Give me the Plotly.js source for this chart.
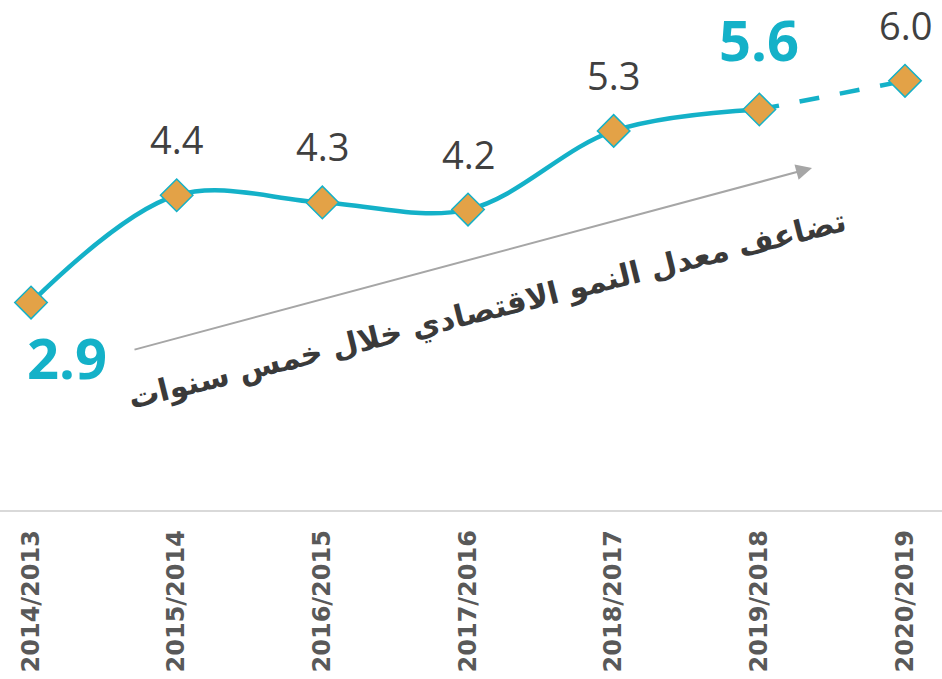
<!DOCTYPE html>
<html>
<head>
<meta charset="utf-8">
<script src="https://cdn.plot.ly/plotly-3.0.1.min.js"></script>
<style>html,body{margin:0;padding:0;background:#fff;}#chart{width:942px;height:679px;}</style>
</head>
<body>
<div id="chart"></div>
<script>
const categories = ["2014/2013","2015/2014","2016/2015","2017/2016","2018/2017","2019/2018","2020/2019"];
const growth = [2.9, 4.4, 4.3, 4.2, 5.3, 5.6, 6.0];
const actualCount = 6;          // first six are actual, last one projected
const highlightIdx = [0, 5];    // values shown large in teal
const noteText = "تضاعف معدل النمو الاقتصادي خلال خمس سنوات";

const TEAL = "#14B1C8";
const ORANGE = "#E3A247";

const solidTrace = {
  x: categories.slice(0, actualCount),
  y: growth.slice(0, actualCount),
  type: "scatter", mode: "lines",
  line: {color: TEAL, width: 4.5, shape: "spline", smoothing: 1},
  hoverinfo: "skip"
};
const dashTrace = {
  x: categories.slice(actualCount - 1),
  y: growth.slice(actualCount - 1),
  type: "scatter", mode: "lines",
  line: {color: TEAL, width: 4.5, dash: "20px,21px"},
  hoverinfo: "skip"
};
const markerTrace = {
  x: categories, y: growth,
  type: "scatter", mode: "markers",
  marker: {symbol: "diamond", size: 25, color: ORANGE, line: {color: TEAL, width: 1.5}},
  hoverinfo: "skip"
};

const annotations = [];
growth.forEach((v, i) => {
  if (highlightIdx.includes(i)) return;
  annotations.push({
    x: categories[i], y: v, xref: "x", yref: "y",
    text: v.toFixed(1), showarrow: false, yshift: 56,
    font: {family: "Open Sans", size: 38, color: "#404040"}
  });
});
// highlighted values
annotations.push({
  x: categories[0], y: growth[0], xref: "x", yref: "y",
  text: growth[0].toFixed(1), showarrow: false, xshift: 36, yshift: -54,
  font: {family: "Open Sans", size: 56, color: TEAL, weight: "bold"}
});
annotations.push({
  x: categories[5], y: growth[5], xref: "x", yref: "y",
  text: growth[5].toFixed(1), showarrow: false, yshift: 70,
  font: {family: "Open Sans", size: 56, color: TEAL, weight: "bold"}
});
// trend arrow
annotations.push({
  xref: "paper", yref: "paper", x: 812/942, y: 1 - 168/510,
  ax: -679, ay: 182, axref: "pixel", ayref: "pixel",
  text: "", showarrow: true, arrowhead: 2, arrowsize: 1.6, arrowwidth: 2,
  arrowcolor: "#A6A6A6"
});
// note
annotations.push({
  xref: "paper", yref: "paper", x: 487/942, y: 1 - 310/510,
  text: noteText, showarrow: false, textangle: -14,
  font: {family: "DejaVu Sans", size: 30.5, color: "#3A3A3A", weight: "bold"}
});

const layout = {
  width: 942, height: 679,
  margin: {l: 0, r: 0, t: 0, b: 169, pad: 0},
  paper_bgcolor: "#ffffff", plot_bgcolor: "#ffffff",
  showlegend: false,
  xaxis: {
    type: "category", range: [-0.213, 6.254],
    showgrid: false, zeroline: false,
    showline: true, linecolor: "#D9D9D9", linewidth: 1.5,
    ticks: "", tickangle: -90, ticklabelstandoff: 9,
    tickfont: {family: "DejaVu Sans", size: 24, color: "#595959", weight: "bold"}
  },
  yaxis: {
    range: [0, 7.13], visible: false, showgrid: false, zeroline: false
  },
  annotations: annotations
};

Plotly.newPlot("chart", [solidTrace, dashTrace, markerTrace], layout, {staticPlot: true, displayModeBar: false});
</script>
</body>
</html>
